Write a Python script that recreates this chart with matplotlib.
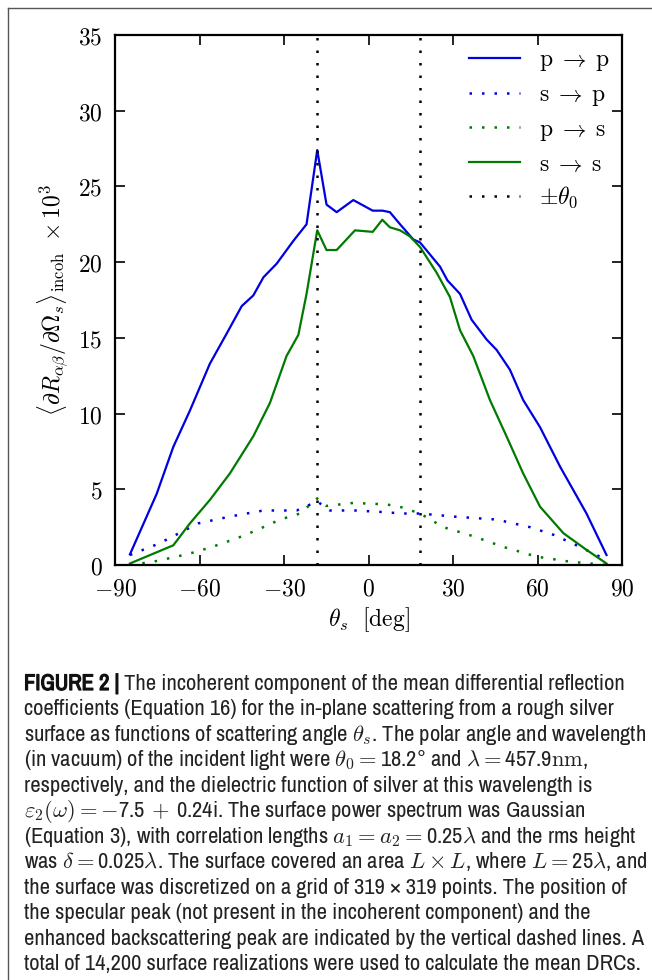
import matplotlib
matplotlib.use("Agg")
import matplotlib.pyplot as plt
from matplotlib.lines import Line2D
from matplotlib.ticker import FuncFormatter, FixedLocator
from matplotlib import font_manager
import matplotlib.patheffects as pe

plt.rcParams['mathtext.fontset'] = 'cm'

# ---------------- data ----------------
theta_pp = [-84.7, -75.2, -69.3, -63.4, -56.3, -50.3, -45.0, -40.9, -37.3, -32.6, -26.7, -22.0,
            -18.2, -14.9, -11.3, -5.4, 1.5, 5.0, 7.6, 11.2, 15.9, 18.3, 25.4, 28.0, 32.5, 36.6,
            41.9, 45.5, 50.2, 54.9, 60.9, 68.0, 77.4, 84.5]
val_pp = [0.7, 4.7, 7.8, 10.2, 13.3, 15.3, 17.1, 17.8, 19.0, 19.9, 21.4, 22.5,
          27.4, 23.8, 23.3, 24.1, 23.4, 23.4, 23.3, 22.5, 21.5, 21.3, 19.7, 18.8, 17.9, 16.2,
          14.9, 14.2, 12.9, 10.9, 9.1, 6.5, 3.4, 0.66]

theta_ss = [-84.7, -69.3, -63.4, -56.3, -49.2, -40.9, -35.0, -29.1, -24.9, -22.0,
            -18.2, -14.9, -11.3, -4.8, 1.5, 4.9, 7.6, 11.2, 14.7, 18.3, 24.2, 28.9,
            32.5, 37.2, 43.1, 49.0, 54.9, 60.9, 69.2, 77.4, 84.5]
val_ss = [0.1, 1.3, 2.75, 4.3, 6.05, 8.5, 10.7, 13.8, 15.2, 17.9,
          22.1, 20.8, 20.8, 22.1, 22.0, 22.8, 22.3, 22.1, 21.7, 21.0, 19.3, 17.7,
          15.5, 13.8, 10.9, 8.5, 6.05, 3.85, 2.1, 1.0, 0.1]

theta_sp = [-84.7, -74.6, -60.4, -49.2, -37.3, -25.5, -18.2, -13.7, -5.0, 5.0, 12.0,
            18.3, 30.1, 45.5, 57.3, 65.6, 72.7, 79.8, 84.5]
val_sp = [0.66, 1.4, 2.75, 3.2, 3.6, 3.6, 4.2, 3.6, 3.6, 3.5, 3.4,
          3.4, 3.2, 3.0, 2.5, 2.0, 1.4, 0.77, 0.33]

theta_ps = [-84.7, -76.4, -68.1, -61.0, -53.9, -46.8, -39.7, -31.4, -24.3, -18.2, -15.0,
            -5.4, 6.5, 12.0, 18.3, 26.6, 37.2, 47.8, 59.7, 71.5, 84.5]
val_ps = [0.0, 0.22, 0.55, 0.88, 1.3, 1.76, 2.3, 3.0, 3.4, 4.4, 3.9,
          4.1, 4.0, 3.8, 3.4, 2.5, 1.9, 1.2, 0.55, 0.22, 0.0]

theta0 = 18.2
x_ticks = [-90, -60, -30, 0, 30, 60, 90]
y_ticks = [0, 5, 10, 15, 20, 25, 30, 35]

labels = [r'$\mathrm{p}\;\rightarrow\;\mathrm{p}$', r'$\mathrm{s}\;\rightarrow\;\mathrm{p}$',
          r'$\mathrm{p}\;\rightarrow\;\mathrm{s}$', r'$\mathrm{s}\;\rightarrow\;\mathrm{s}$',
          r'$\pm\theta_0$']

caption_head = "FIGURE 2 |"
caption_lines = [
    " The incoherent component of the mean differential reflection",
    "coefficients (Equation 16) for the in-plane scattering from a rough silver",
    r"surface as functions of scattering angle $\theta_s$. The polar angle and wavelength",
    r"(in vacuum) of the incident light were $\theta_0=$18.2° and $\lambda=$457.9$\mathrm{nm}$,",
    "respectively, and the dielectric function of silver at this wavelength is",
    r"$\varepsilon_2(\omega)=-$7.5$\,+\,$0.24i. The surface power spectrum was Gaussian",
    r"(Equation 3), with correlation lengths $a_1=a_2=$0.25$\lambda$ and the rms height",
    r"was $\delta=$0.025$\lambda$. The surface covered an area $L\times L$, where $L=$25$\lambda$, and",
    "the surface was discretized on a grid of 319 × 319 points. The position of",
    "the specular peak (not present in the incoherent component) and the",
    "enhanced backscattering peak are indicated by the vertical dashed lines. A",
    "total of 14,200 surface realizations were used to calculate the mean DRCs.",
]

# ---------------- figure ----------------
W, H = 652, 980
fig = plt.figure(figsize=(W / 100, H / 100), dpi=100)
fig.patch.set_facecolor('white')

ax = fig.add_axes([115 / W, 1 - 565 / H, 507 / W, 530 / H])

dot = (0, (1, 4))
blue = '#0000e0'
green = '#007a00'
ax.plot(theta_pp, val_pp, color=blue, lw=1.6, label=labels[0])
ax.plot(theta_sp, val_sp, color=blue, lw=1.8, ls=dot, label=labels[1])
ax.plot(theta_ps, val_ps, color=green, lw=1.8, ls=dot, label=labels[2])
ax.plot(theta_ss, val_ss, color=green, lw=1.6, label=labels[3])
ax.axvline(-theta0, color='black', lw=1.8, ls=dot, label=labels[4])
ax.axvline(theta0, color='black', lw=1.8, ls=dot)

ax.set_xlim(-90, 90)
ax.set_ylim(0, 35)
ax.xaxis.set_major_locator(FixedLocator(x_ticks))
ax.yaxis.set_major_locator(FixedLocator(y_ticks))
fmt = FuncFormatter(lambda v, p: r'$%d$' % v)
ax.xaxis.set_major_formatter(fmt)
ax.yaxis.set_major_formatter(fmt)
ax.tick_params(direction='in', top=True, right=True, length=7, width=1.2,
               labelsize=17)
ax.tick_params(axis='x', pad=8)
ax.tick_params(axis='y', pad=9)
for s in ax.spines.values():
    s.set_linewidth(1.6)

ax.set_xlabel(r'$\theta_s\ \ [\mathrm{deg}]$', fontsize=17, labelpad=4)
ax.set_ylabel(r'$\langle\partial R_{\alpha\beta}/\partial\Omega_s\rangle_{\mathrm{incoh}}\ \times 10^3$',
              fontsize=17, labelpad=5)

ax.legend(loc='upper right', frameon=False, fontsize=17, handlelength=2.2,
          labelspacing=0.38, handletextpad=0.8, borderaxespad=0.1)

# ---------------- frame ----------------
fig.add_artist(Line2D([8 / W, 8 / W], [0, 1 - 8 / H], transform=fig.transFigure,
                      color='#555555', lw=1.0))
fig.add_artist(Line2D([8 / W, 1], [1 - 8 / H, 1 - 8 / H], transform=fig.transFigure,
                      color='#555555', lw=1.0))

# ---------------- caption ----------------
names = {f.name for f in font_manager.fontManager.ttflist}
narrow = [n for n in sorted(names) if 'Narrow' in n or 'Condensed' in n]
cap_font = narrow[:1] + ['Roboto', 'DejaVu Sans']
x0 = 24 / W
base0 = 690
step = 25.45
target = 624.0

fig.canvas.draw()
r = fig.canvas.get_renderer()
wmax = 0
for ln in caption_lines[1:]:
    probe = fig.text(0, 0, ln, fontsize=14, family=cap_font)
    wmax = max(wmax, probe.get_window_extent(r).width)
    probe.remove()
cap_size = 14 * target / wmax

head = fig.text(x0, 1 - base0 / H, caption_head, fontsize=cap_size, fontweight='bold',
                family=cap_font, color='#111111', va='baseline', ha='left',
                path_effects=[pe.withStroke(linewidth=0.9, foreground='#111111')])
bb = head.get_window_extent(r)
fig.text(bb.x1 / W, 1 - base0 / H, caption_lines[0], fontsize=cap_size, family=cap_font,
         color='#222222', va='baseline', ha='left')
for i, line in enumerate(caption_lines[1:], start=1):
    fig.text(x0, 1 - (base0 + i * step) / H, line, fontsize=cap_size, family=cap_font,
             color='#222222', va='baseline', ha='left')

fig.savefig('out.png', dpi=100)
